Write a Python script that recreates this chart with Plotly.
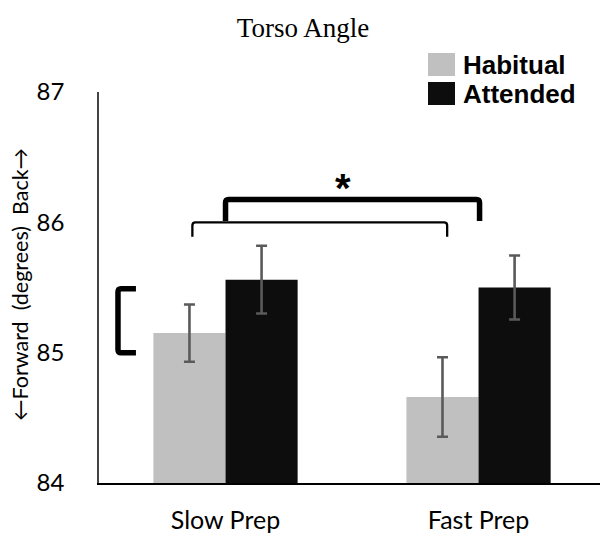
import plotly.graph_objects as go

# Torso angle means (degrees) with standard errors
categories = ["Slow Prep", "Fast Prep"]
series_names = ["Habitual", "Attended"]
habitual = [85.15, 84.66]
habitual_err = [0.22, 0.305]
attended = [85.56, 85.50]
attended_err = [0.26, 0.245]
y_ticks = [84, 85, 86, 87]

colors = ["#c0c0c0", "#0d0d0d"]
W, H = 600, 536
L, T, B = 99, 92, 53
PW, PH = W - L, H - T - B

x_pos = list(range(len(categories)))

fig = go.Figure()
for name, vals, errs, col in zip(series_names, [habitual, attended],
                                 [habitual_err, attended_err], colors):
    fig.add_trace(go.Bar(
        x=x_pos, y=vals, name=name, marker=dict(color=col, line=dict(width=0)),
        error_y=dict(type="data", array=errs, visible=True, color="#5a5a5a",
                     thickness=2.6, width=5.5),
        showlegend=False,
    ))


def px_to_paper(px, py):
    return (px - L) / PW, (H - B - py) / PH


shapes = []
annotations = []

# legend swatches and labels
for i, (name, col) in enumerate(zip(series_names, colors)):
    top = 53 + i * 29
    x0, y0 = px_to_paper(428, top)
    x1, y1 = px_to_paper(455, top + 23)
    shapes.append(dict(type="rect", xref="paper", yref="paper", x0=x0, x1=x1,
                       y0=y1, y1=y0, fillcolor=col, line=dict(width=0)))
    tx, ty = px_to_paper(461, top + 12)
    annotations.append(dict(xref="paper", yref="paper", x=tx, y=ty, text="<b>%s</b>" % name,
                            showarrow=False, xanchor="left", yanchor="middle",
                            font=dict(family="Liberation Sans", size=26, color="#000")))


def bracket(x0, x1, y_top, y_bot, width, r_x=0.012, r_y=0.025):
    path = (f"M {x0},{y_bot} L {x0},{y_top - r_y} Q {x0},{y_top} {x0 + r_x},{y_top} "
            f"L {x1 - r_x},{y_top} Q {x1},{y_top} {x1},{y_top - r_y} L {x1},{y_bot}")
    return dict(type="path", xref="x", yref="y", path=path,
                line=dict(color="#000", width=width))


# comparison brackets between preparation conditions
shapes.append(bracket(-0.131, 0.876, 86.0, 85.89, 2.3))
shapes.append(bracket(0.0, 1.004, 86.175, 86.01, 5.5))
# vertical bracket beside the slow-prep bars
rx, ry = 0.012, 0.025
shapes.append(dict(type="path", xref="x", yref="y",
                   path=(f"M -0.354,85.49 L {-0.425 + rx},85.49 Q -0.425,85.49 -0.425,{85.49 - ry} "
                         f"L -0.425,{85.0 + ry} Q -0.425,85.0 {-0.425 + rx},85.0 L -0.354,85.0"),
                   line=dict(color="#000", width=5.5)))

annotations.append(dict(x=0.464, y=86.26, xref="x", yref="y", text="<b>*</b>",
                        showarrow=False, yanchor="middle",
                        font=dict(family="Liberation Sans", size=40, color="#000")))

tx, ty = px_to_paper(20, 285)
annotations.append(dict(xref="paper", yref="paper", x=tx, y=ty,
                        text="←Forward  (degrees)  Back→", textangle=-90,
                        showarrow=False, xanchor="center", yanchor="middle",
                        font=dict(family="Lato", size=21.5, color="#000")))

fig.update_layout(
    width=W, height=H,
    margin=dict(l=L, r=0, t=T, b=B),
    paper_bgcolor="white", plot_bgcolor="white",
    barmode="group", bargap=0.43, bargroupgap=0,
    title=dict(text="Torso Angle", x=303 / W, xanchor="center",
               y=1 - 28 / H, yanchor="middle",
               font=dict(family="Liberation Serif", size=27, color="#000")),
    xaxis=dict(range=[-0.5, 1.48], tickvals=x_pos, ticktext=categories,
               showline=True, linecolor="#000", linewidth=1.5, ticks="",
               showgrid=False, zeroline=False, ticklabelstandoff=14,
               tickfont=dict(family="Lato", size=25, color="#000")),
    yaxis=dict(range=[84, 87], tickvals=y_ticks, showline=True, linecolor="#444",
               linewidth=1.5, ticks="", showgrid=False, zeroline=False,
               ticklabelstandoff=28,
               tickfont=dict(family="Lato", size=24, color="#000")),
    shapes=shapes, annotations=annotations,
)

fig.write_html("out.html")
